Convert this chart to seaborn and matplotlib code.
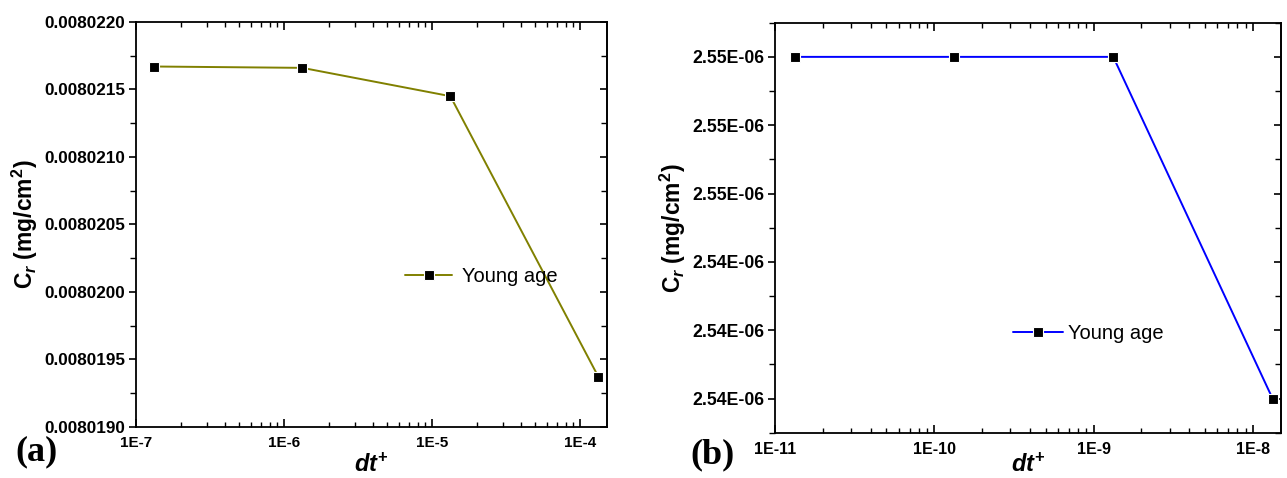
import numpy as np
import pandas as pd
import matplotlib
matplotlib.use("Agg")
import matplotlib.pyplot as plt
import matplotlib.ticker as mticker
import seaborn as sns

# ---- data ----
dt_a = [1.33e-7, 1.33e-6, 1.33e-5, 1.33e-4]
cr_a = [0.00802167, 0.00802166, 0.00802145, 0.00801937]
dt_b = [1.33e-11, 1.33e-10, 1.33e-9, 1.33e-8]
cr_b = [2.550e-6, 2.550e-6, 2.550e-6, 2.540e-6]
series_label = "Young age"
yticks_a = [0.0080190, 0.0080195, 0.0080200, 0.0080205, 0.0080210, 0.0080215, 0.0080220]
yticks_b = [2.540e-6, 2.542e-6, 2.544e-6, 2.546e-6, 2.548e-6, 2.550e-6]
xticks_a = [1e-7, 1e-6, 1e-5, 1e-4]
xticks_b = [1e-11, 1e-10, 1e-9, 1e-8]

sns.set_theme(style="white")
plt.rcParams["font.family"] = ["Liberation Sans", "DejaVu Sans"]
plt.rcParams["mathtext.fontset"] = "custom"
plt.rcParams["mathtext.rm"] = "Liberation Sans:bold"
plt.rcParams["mathtext.bf"] = "Liberation Sans:bold"
plt.rcParams["mathtext.it"] = "Liberation Sans:italic:bold"

fig = plt.figure(figsize=(12.87, 4.78), dpi=100)
ax1 = fig.add_axes([0.1057, 0.1073, 0.3659, 0.8467])
ax2 = fig.add_axes([0.6022, 0.0948, 0.3932, 0.8577])


def expfmt(v, pos=None):
    e = int(round(np.log10(v)))
    return f"1E{e}"


def style(ax, xticks, yticks, ylim, xlim, yfmt, xtick_fs, ytick_fs, xlab_y):
    ax.set_xscale("log")
    ax.set_xlim(*xlim)
    ax.set_ylim(*ylim)
    ax.xaxis.set_major_locator(mticker.FixedLocator(xticks))
    ax.xaxis.set_minor_locator(mticker.LogLocator(base=10, subs=np.arange(2, 10), numticks=20))
    ax.xaxis.set_major_formatter(mticker.FuncFormatter(expfmt))
    ax.xaxis.set_minor_formatter(mticker.NullFormatter())
    ax.yaxis.set_major_locator(mticker.FixedLocator(yticks))
    step = yticks[1] - yticks[0]
    minors = [t + step / 2 for t in yticks[:-1]]
    minors = [yticks[0] - step / 2] + minors + [yticks[-1] + step / 2]
    ax.yaxis.set_minor_locator(mticker.FixedLocator(minors))
    ax.yaxis.set_major_formatter(mticker.FuncFormatter(yfmt))
    for s in ax.spines.values():
        s.set_visible(True)
        s.set_color("black")
        s.set_linewidth(1.3)
    ax.tick_params(axis="x", which="both", direction="in", top=True, bottom=True, color="black")
    ax.tick_params(axis="x", which="major", length=6, width=1.2, pad=7)
    ax.tick_params(axis="x", which="minor", length=3.5, width=1.0)
    ax.tick_params(axis="y", which="both", direction="out", left=True, right=False, color="black")
    ax.tick_params(axis="y", which="major", length=5, width=1.2, pad=3)
    ax.tick_params(axis="y", which="minor", length=4, width=1.0)
    for lab in ax.get_xticklabels():
        lab.set_fontweight("bold")
        lab.set_fontsize(xtick_fs)
        lab.set_color("black")
    for lab in ax.get_yticklabels():
        lab.set_fontweight("bold")
        lab.set_fontsize(ytick_fs)
        lab.set_color("black")
    sec = ax.secondary_yaxis("right")
    sec.yaxis.set_major_locator(mticker.FixedLocator(yticks))
    sec.yaxis.set_minor_locator(mticker.FixedLocator(minors))
    sec.tick_params(axis="y", which="both", direction="in", labelright=False, color="black")
    sec.tick_params(axis="y", which="major", length=5, width=1.2)
    sec.tick_params(axis="y", which="minor", length=4, width=1.0)
    sec.spines["right"].set_linewidth(1.3)
    ax.set_xlabel(r"$\mathit{dt}^{\mathbf{+}}$", fontsize=17, color="black")
    ax.xaxis.set_label_coords(0.5, xlab_y)
    ax.set_ylabel(r"$\mathbf{C}_{\mathit{r}}$ (mg/cm$^{\mathbf{2}}$)", fontsize=16.5,
                  fontweight="bold", color="black", labelpad=3)


df_a = pd.DataFrame({"dt": dt_a, "cr": cr_a})
df_b = pd.DataFrame({"dt": dt_b, "cr": cr_b})

ax1.set_xscale("log")
sns.lineplot(data=df_a, x="dt", y="cr", ax=ax1, color="#808000", linewidth=1.4,
             marker="s", markersize=7, markerfacecolor="black", markeredgecolor="white",
             markeredgewidth=0.8, label=series_label)
ax2.set_xscale("log")
sns.lineplot(data=df_b, x="dt", y="cr", ax=ax2, color="#0000FF", linewidth=1.4,
             marker="s", markersize=7, markerfacecolor="black", markeredgecolor="white",
             markeredgewidth=0.8, label=series_label)

style(ax1, xticks_a, yticks_a, (0.0080190, 0.0080220), (1e-7, 1.52e-4),
      lambda v, p=None: f"{v:.7f}", 11, 12.3, -0.066)
style(ax2, xticks_b, yticks_b, (2.5390e-6, 2.5510e-6), (1e-11, 1.505e-8),
      lambda v, p=None: f"{v * 1e6:.2f}E-06", 11.5, 12.7, -0.050)

leg1 = ax1.legend(loc="center left", bbox_to_anchor=(0.571, 0.370), frameon=False,
                  fontsize=14.5, handlelength=2.35, handletextpad=0.5, borderpad=0,
                  borderaxespad=0)
leg2 = ax2.legend(loc="center left", bbox_to_anchor=(0.470, 0.243), frameon=False,
                  fontsize=14.5, handlelength=2.5, handletextpad=0.25, borderpad=0,
                  borderaxespad=0)
for lg in (leg1, leg2):
    for t in lg.get_texts():
        t.set_color("black")

fig.text(15 / 1287, 1 - 452 / 478, "(a)", fontsize=26, fontweight="bold",
         family="Liberation Serif", va="center", ha="left", color="black")
fig.text(690 / 1287, 1 - 455 / 478, "(b)", fontsize=26, fontweight="bold",
         family="Liberation Serif", va="center", ha="left", color="black")

fig.savefig("out.png", dpi=100, facecolor="white")
